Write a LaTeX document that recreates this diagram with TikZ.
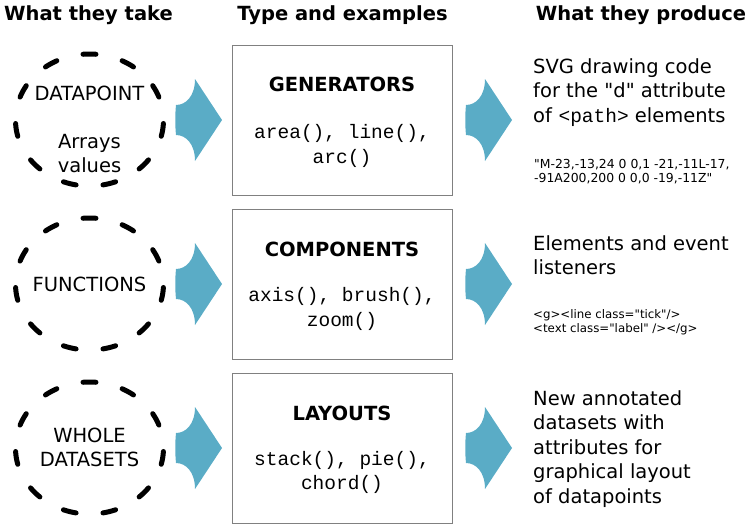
\documentclass[tikz,border=0pt]{standalone}
\usepackage{fontspec}
\setmainfont{DejaVu Sans}[Ligatures=TeXOff]
\setmonofont{Liberation Mono}
\usetikzlibrary{shapes.geometric}
\definecolor{arrowblue}{RGB}{90,172,198}
\definecolor{boxgray}{RGB}{128,128,128}
\tikzset{
    header/.style={font=\bfseries\fontsize{19.5}{24}\selectfont, inner sep=0pt, anchor=base},
    takering/.style={ellipse, draw, line width=5pt, line cap=round,
        dash pattern=on 13pt off 27.02pt, dash phase=16.5pt,
        minimum width=148pt, minimum height=132pt, inner sep=0pt},
    taketext/.style={font=\fontsize{19.5}{24}\selectfont, align=center, inner sep=0pt},
    typebox/.style={draw=boxgray, line width=0.9pt, minimum width=220pt, minimum height=150pt, inner sep=0pt},
    typetitle/.style={font=\bfseries\fontsize{19.5}{24}\selectfont, inner sep=0pt},
    typecode/.style={font=\ttfamily\fontsize{19.5}{24.5}\selectfont, align=center, inner sep=0pt},
    prodtext/.style={font=\fontsize{19.5}{24.5}\selectfont, align=left, anchor=west, inner sep=0pt},
    prodsmall/.style={align=left, anchor=west, inner sep=0pt},
}
\begin{document}
\begin{tikzpicture}[x=1pt, y=-1pt]
    \useasboundingbox (0,0) rectangle (750,528);
    % column headers
    \node[header] (hdtake) at (88.5,20) {What they take};
    \node[header] (hdtype) at (342.5,20) {Type and examples};
    \node[header] (hdprod) at (641,20) {What they produce};
    % what they take
    \foreach \y in {120,284,448} {
        \node[takering] (take\y) at (89.5,\y) {};
    }
    \node[taketext] (datapoint) at (89.5,93) {DATAPOINT};
    \node[taketext] (arrays) at (89.5,153.9) {Arrays\\values};
    \node[taketext] (functions) at (89.5,284.5) {FUNCTIONS};
    \node[taketext] (whole) at (89.5,446.9) {WHOLE\\DATASETS};
    % type and examples
    \foreach \y in {120,284,448} {
        \node[typebox] (type\y) at (342,\y) {};
    }
    \node[typetitle] (generators) at (342,84) {GENERATORS};
    \node[typecode] (gencode) at (342,146.2) {area(), line(),\\arc()};
    \node[typetitle] (components) at (342,249) {COMPONENTS};
    \node[typecode] (compcode) at (342,309.2) {axis(), brush(),\\zoom()};
    \node[typetitle] (layouts) at (342,413.3) {LAYOUTS};
    \node[typecode] (laycode) at (342,472.5) {stack(), pie(),\\chord()};
    % arrows
    \foreach \y in {120,284,448} {
        \foreach \x in {176,466} {
            \fill[arrowblue, shift={(\x,\y)}] (19,-41) .. controls (19,-24) and (10,-15) .. (0,-15)
                .. controls (-1,-5) and (-1,5) .. (0,15)
                .. controls (10,15) and (19,24) .. (19,41) -- (46,0) -- cycle;
        }
    }
    % what they produce
    \node[prodtext] (svgcode) at (533,92.4) {SVG drawing code\\for the "d" attribute\\of \texttt{<path>} elements};
    \node[prodsmall, font=\fontsize{12.4}{13.8}\selectfont] (pathdata) at (534,172)
        {"M-23,-13,24 0 0,1 -21,-11L-17,\\-91A200,200 0 0,0 -19,-11Z"};
    \node[prodtext] (elements) at (533,255.1) {Elements and event\\listeners};
    \node[prodsmall, font=\fontsize{11.8}{14}\selectfont] (gmarkup) at (533,321.9)
        {<g><line class="tick"/>\\<text class="label" /></g>};
    \node[prodtext] (datasets) at (533,448.7) {New annotated\\datasets with\\attributes for\\graphical layout\\of datapoints};
\end{tikzpicture}
\end{document}
